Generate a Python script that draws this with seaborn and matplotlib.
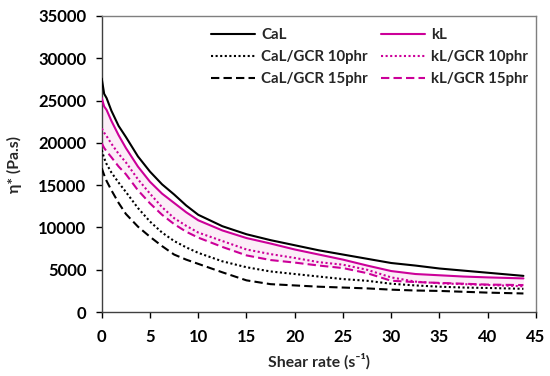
import numpy as np
import pandas as pd
import matplotlib
matplotlib.use("Agg")
import matplotlib.pyplot as plt
import seaborn as sns

# Shear rate (s-1)
shear = [0.0, 0.25, 0.5, 1.0, 1.75, 2.5, 3.75, 5.0, 6.25, 7.5, 8.75, 10.0, 12.5, 15.0, 17.5, 20.0,
         22.5, 25.0, 27.5, 30.0, 32.5, 35.0, 37.5, 40.0, 43.7]

CaL    = [27600, 25800, 25300, 23800, 22000, 20700, 18400, 16600, 15100, 13900, 12600, 11500, 10150,
          9200, 8500, 7900, 7300, 6800, 6300, 5800, 5500, 5150, 4900, 4650, 4280]
CaL_10 = [19150, 18200, 17500, 16500, 15300, 14200, 12300, 10700, 9400, 8400, 7650, 7000, 6000,
          5300, 4800, 4500, 4200, 3900, 3700, 3350, 3150, 3000, 2900, 2850, 2750]
CaL_15 = [17000, 16200, 15500, 14400, 12900, 11600, 10100, 8900, 7800, 6800, 6200, 5700, 4700,
          3750, 3300, 3150, 3000, 2900, 2800, 2650, 2550, 2500, 2400, 2300, 2200]
kL     = [25300, 24300, 23900, 22600, 20900, 19400, 17200, 15400, 14000, 12900, 11800, 10850, 9650,
          8750, 8100, 7400, 6800, 6200, 5500, 4850, 4500, 4350, 4200, 4100, 3980]
kL_10  = [21700, 21200, 20800, 19900, 18700, 17700, 15700, 14000, 12400, 11100, 10200, 9400, 8400,
          7400, 6850, 6400, 5900, 5600, 5000, 4100, 3600, 3400, 3300, 3200, 3050]
kL_15  = [19950, 19400, 19000, 18300, 17200, 16300, 14400, 12850, 11500, 10400, 9500, 8800, 7700,
          6700, 6150, 5850, 5500, 5200, 4600, 3700, 3550, 3450, 3350, 3250, 3190]

names = ["CaL", "CaL/GCR 10phr", "CaL/GCR 15phr", "kL", "kL/GCR 10phr", "kL/GCR 15phr"]
series = [CaL, CaL_10, CaL_15, kL, kL_10, kL_15]

x_ticks = list(range(0, 50, 5))
y_ticks = list(range(0, 40000, 5000))

df = pd.concat([pd.DataFrame({"shear": shear, "eta": v, "sample": n})
                for n, v in zip(names, series)], ignore_index=True)

sns.set_style("white")
plt.rcParams["font.family"] = ["Lato", "DejaVu Sans"]
plt.rcParams["font.weight"] = "bold"

black = "#000000"
mag = "#cc0099"
palette = {"CaL": black, "CaL/GCR 10phr": black, "CaL/GCR 15phr": black,
           "kL": mag, "kL/GCR 10phr": mag, "kL/GCR 15phr": mag}
dashes = {"CaL": "", "CaL/GCR 10phr": (1, 1.2), "CaL/GCR 15phr": (4, 2),
          "kL": "", "kL/GCR 10phr": (1, 1.2), "kL/GCR 15phr": (4, 2)}

fig = plt.figure(figsize=(5.5, 3.76), dpi=100)
ax = fig.add_axes([0.185, 0.170, 0.7895, 0.7875])

ax.fill_between(shear, kL_15, kL, color="#f9dcf0", alpha=0.5, lw=0, zorder=1)

sns.lineplot(data=df, x="shear", y="eta", hue="sample", style="sample",
             palette=palette, dashes=dashes, hue_order=names, style_order=names,
             linewidth=1.5, ax=ax, zorder=3)

ax.set_xlim(0, 45)
ax.set_ylim(0, 35000)
ax.set_xticks(x_ticks)
ax.set_yticks(y_ticks)
ax.tick_params(direction="out", length=4, width=1, bottom=True, left=True,
               labelsize=12, colors="#000000")
ax.tick_params(axis="y", pad=7)
ax.tick_params(axis="x", pad=8)
for lab in ax.get_xticklabels() + ax.get_yticklabels():
    lab.set_fontweight("bold")

for s in ["left", "bottom"]:
    ax.spines[s].set_color("#404040")
    ax.spines[s].set_linewidth(1.0)
for s in ["top", "right"]:
    ax.spines[s].set_color("#7f7f7f")
    ax.spines[s].set_linewidth(1.0)

ax.set_xlabel("Shear rate (s\u207b\u00b9)", fontsize=11.3, fontweight="bold", labelpad=6)
ax.set_ylabel("\u03b7* (Pa.s)", fontsize=11.3, fontweight="bold", labelpad=12)

handles, labels = ax.get_legend_handles_labels()
leg = ax.legend(handles, labels, ncol=2, loc="upper left", bbox_to_anchor=(0.225, 1.0),
                frameon=False, fontsize=10.8, handlelength=2.9, handletextpad=0.4,
                columnspacing=0.9, labelspacing=0.55, borderaxespad=0.4)
for t in leg.get_texts():
    t.set_fontweight("bold")

fig.savefig("out.png", dpi=100)
